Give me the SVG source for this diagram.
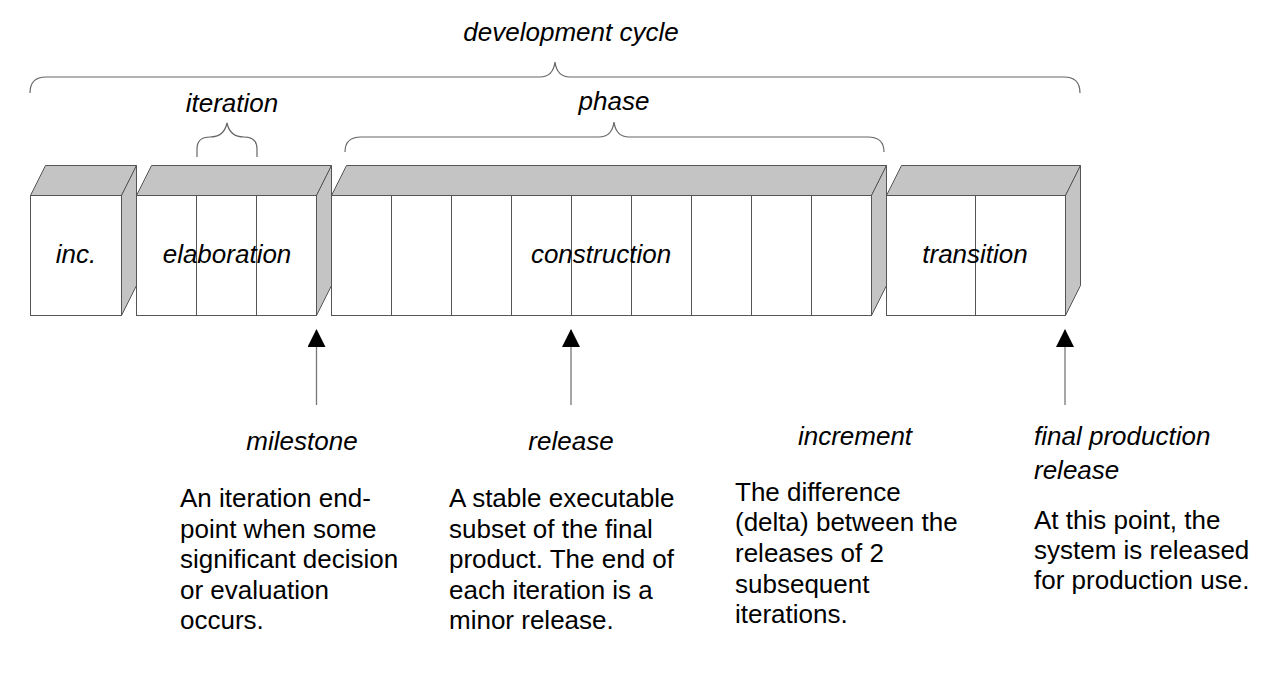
<svg xmlns="http://www.w3.org/2000/svg" width="1276" height="680" viewBox="0 0 1276 680">
<style>
.face{fill:#ffffff;stroke:#555555;stroke-width:1}
.shade{fill:#c4c4c4;stroke:#555555;stroke-width:1}
.div{stroke:#555555;stroke-width:1;fill:none}
.brace{fill:none;stroke:#666666;stroke-width:1.2}
.lbl{font-family:"Liberation Sans",Arial,Helvetica,sans-serif;font-size:26px;font-style:italic;fill:#000}
.body{font-family:"Liberation Sans",Arial,Helvetica,sans-serif;font-size:26px;fill:#000}
.conn{stroke:#777777;stroke-width:1.3;fill:none}
</style>
<defs>
<marker id="ah" viewBox="0 0 18 18" refX="17" refY="9" markerWidth="18" markerHeight="18" markerUnits="userSpaceOnUse" orient="auto">
<path d="M0,0 L18,9 L0,18 z" fill="#000"/>
</marker>
</defs>
<rect width="1276" height="680" fill="#ffffff"/>

<g id="braces">
<text class="lbl" x="571" y="41" text-anchor="middle">development cycle</text>
<path class="brace" d="M30,93 Q30,77 46,77 L540,77 Q553,77 555,62 Q557,77 570,77 L1064,77 Q1080,77 1080,93"/>
<text class="lbl" x="232" y="112" text-anchor="middle">iteration</text>
<path class="brace" d="M197,157 L197,149 Q197,137 210,137 Q224,137 227,123 Q230,137 244,137 Q257,137 257,149 L257,157"/>
<text class="lbl" x="614" y="110" text-anchor="middle">phase</text>
<path class="brace" d="M345,152 Q345,137 361,137 L599,137 Q612,137 614,122 Q616,137 629,137 L868,137 Q884,137 884,152"/>
</g>

<g id="inc">
<polygon class="shade" points="30.5,195.5 45.5,165.5 136.5,165.5 121.5,195.5"/>
<polygon class="shade" points="121.5,195.5 136.5,165.5 136.5,285.5 121.5,315.5"/>
<rect class="face" x="30.5" y="195.5" width="91" height="120"/>
<text class="lbl" x="76" y="263" text-anchor="middle">inc.</text>
</g>

<g id="elaboration">
<polygon class="shade" points="136.5,195.5 151.5,165.5 331.5,165.5 316.5,195.5"/>
<polygon class="shade" points="316.5,195.5 331.5,165.5 331.5,285.5 316.5,315.5"/>
<rect class="face" x="136.5" y="195.5" width="180" height="120"/>
<path class="div" d="M196.5,195.5 V315.5 M256.5,195.5 V315.5"/>
<text class="lbl" x="227" y="263" text-anchor="middle">elaboration</text>
</g>

<g id="construction">
<polygon class="shade" points="331.5,195.5 346.5,165.5 886.5,165.5 871.5,195.5"/>
<polygon class="shade" points="871.5,195.5 886.5,165.5 886.5,285.5 871.5,315.5"/>
<rect class="face" x="331.5" y="195.5" width="540" height="120"/>
<path class="div" d="M391.5,195.5 V315.5 M451.5,195.5 V315.5 M511.5,195.5 V315.5 M571.5,195.5 V315.5 M631.5,195.5 V315.5 M691.5,195.5 V315.5 M751.5,195.5 V315.5 M811.5,195.5 V315.5"/>
<text class="lbl" x="601" y="263" text-anchor="middle">construction</text>
</g>

<g id="transition">
<polygon class="shade" points="886.5,195.5 901.5,165.5 1080.5,165.5 1065.5,195.5"/>
<polygon class="shade" points="1065.5,195.5 1080.5,165.5 1080.5,285.5 1065.5,315.5"/>
<rect class="face" x="886.5" y="195.5" width="179" height="120"/>
<path class="div" d="M975.5,195.5 V315.5"/>
<text class="lbl" x="975" y="263" text-anchor="middle">transition</text>
</g>

<g id="connectors">
<line class="conn" x1="316.5" y1="405" x2="316.5" y2="330" marker-end="url(#ah)"/>
<line class="conn" x1="571" y1="405" x2="571" y2="330" marker-end="url(#ah)"/>
<line class="conn" x1="1065" y1="405" x2="1065" y2="330" marker-end="url(#ah)"/>
</g>

<g id="milestone">
<text class="lbl" x="302" y="450" text-anchor="middle">milestone</text>
<text class="body" x="180" y="507">
<tspan x="180" y="507">An iteration end-</tspan>
<tspan x="180" y="538">point when some</tspan>
<tspan x="180" y="568">significant decision</tspan>
<tspan x="180" y="599">or evaluation</tspan>
<tspan x="180" y="629">occurs.</tspan>
</text>
</g>

<g id="release">
<text class="lbl" x="571" y="450" text-anchor="middle">release</text>
<text class="body" x="449" y="507">
<tspan x="449" y="507">A stable executable</tspan>
<tspan x="449" y="538">subset of the final</tspan>
<tspan x="449" y="568">product. The end of</tspan>
<tspan x="449" y="599">each iteration is a</tspan>
<tspan x="449" y="629">minor release.</tspan>
</text>
</g>

<g id="increment">
<text class="lbl" x="855" y="445" text-anchor="middle">increment</text>
<text class="body" x="735" y="501">
<tspan x="735" y="501">The difference</tspan>
<tspan x="735" y="531">(delta) between the</tspan>
<tspan x="735" y="562">releases of 2</tspan>
<tspan x="735" y="593">subsequent</tspan>
<tspan x="735" y="623">iterations.</tspan>
</text>
</g>

<g id="final-release">
<text class="lbl" x="1034" y="445">final production</text>
<text class="lbl" x="1034" y="479">release</text>
<text class="body" x="1034" y="529">
<tspan x="1034" y="529">At this point, the</tspan>
<tspan x="1034" y="559">system is released</tspan>
<tspan x="1034" y="589">for production use.</tspan>
</text>
</g>
</svg>
